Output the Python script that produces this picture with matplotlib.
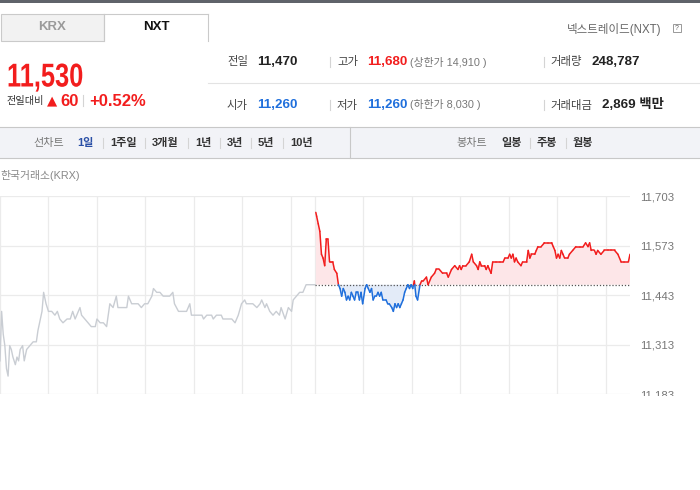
import numpy as np
import matplotlib
matplotlib.use('Agg')
import matplotlib.pyplot as plt
from matplotlib.collections import LineCollection
from matplotlib.patches import Rectangle, PathPatch
from matplotlib.lines import Line2D
from matplotlib.textpath import TextPath
from matplotlib.font_manager import FontProperties
from matplotlib.transforms import Affine2D

W, H = 700, 490
SANS = ['Liberation Sans', 'Noto Sans CJK KR', 'DejaVu Sans']
plt.rcParams['font.family'] = SANS

RED = '#f21d1d'
BLUE = '#1f6fdc'
GRAY_LINE = '#c9cdd3'

# ---- data ----
price = '11,530'
prev_close = 11470
y_ticks = [11183, 11313, 11443, 11573, 11703]
x_grid = [0, 60, 120, 180, 240, 300, 360, 390, 450, 510, 570, 630, 690, 750]

# KRX session, minutes from the open
krx_t = [0, 2, 4, 6, 8, 10, 12, 14, 16, 19, 21, 23, 25, 28, 30, 33, 37, 41, 45, 47,
         49, 52, 54, 57, 60, 64, 68, 71, 74, 78, 83, 87, 90, 93, 97, 99, 101, 105, 109, 113,
         118, 120, 124, 128, 132, 134, 136, 140, 144, 146, 153, 157, 159, 163, 171, 175, 179, 183, 188, 190,
         194, 198, 202, 206, 210, 214, 216, 221, 227, 231, 235, 237, 243, 250, 252, 256, 262, 264, 268, 274,
         276, 287, 291, 295, 299, 303, 305, 309, 313, 318, 322, 324, 328, 330, 334, 338, 342, 346, 348, 353,
         357, 361, 363, 367, 371, 375, 379, 383, 390]
krx_v = [11270, 11400, 11340, 11310, 11250, 11230, 11310, 11300, 11280, 11260,
         11280, 11270, 11300, 11310, 11270, 11300, 11310, 11320, 11320, 11350,
         11370, 11400, 11450, 11420, 11400, 11400, 11390, 11400, 11380, 11370,
         11380, 11380, 11400, 11380, 11400, 11410, 11390, 11380, 11370, 11360,
         11360, 11380, 11370, 11370, 11360, 11390, 11420, 11410, 11440, 11410,
         11410, 11410, 11440, 11420, 11420, 11410, 11420, 11420, 11440, 11460,
         11450, 11450, 11440, 11440, 11440, 11450, 11420, 11400, 11400, 11400,
         11420, 11390, 11390, 11390, 11380, 11390, 11390, 11380, 11390, 11390,
         11380, 11380, 11370, 11390, 11420, 11430, 11420, 11420, 11420, 11410,
         11420, 11430, 11410, 11420, 11400, 11390, 11400, 11390, 11410, 11380,
         11410, 11400, 11430, 11440, 11450, 11450, 11470, 11470, 11470]

# NXT session, same time axis
nxt_t = [391, 392, 394, 396, 398, 400, 402, 404, 406, 408, 410, 412, 414, 417, 419, 421, 423, 425, 427, 429,
         431, 433, 435, 437, 439, 441, 443, 445, 447, 449, 452, 454, 456, 458, 460, 462, 464, 466, 468, 470,
         472, 474, 478, 480, 482, 485, 487, 489, 491, 493, 495, 497, 499, 501, 503, 505, 507, 509, 511, 513,
         515, 517, 520, 522, 524, 528, 530, 534, 538, 540, 544, 548, 553, 555, 559, 563, 567, 569, 571, 573,
         577, 581, 584, 586, 590, 592, 594, 596, 600, 602, 604, 606, 608, 610, 614, 619, 623, 625, 629, 631,
         633, 635, 637, 639, 641, 645, 647, 652, 654, 656, 658, 662, 664, 666, 670, 674, 678, 683, 685, 687,
         689, 691, 693, 695, 697, 699, 703, 705, 709, 713, 718, 722, 725, 728, 730, 732, 736, 738, 740, 744,
         748, 753, 757, 761, 765, 769, 773, 778, 780]
nxt_v = [11660, 11650, 11630, 11610, 11550, 11540, 11520, 11590, 11590, 11530,
         11530, 11530, 11510, 11500, 11470, 11460, 11440, 11460, 11450, 11430,
         11440, 11430, 11450, 11440, 11430, 11450, 11450, 11430, 11450, 11420,
         11460, 11470, 11460, 11450, 11460, 11430, 11440, 11440, 11450, 11440,
         11450, 11430, 11430, 11420, 11420, 11410, 11400, 11420, 11410, 11420,
         11410, 11420, 11430, 11450, 11460, 11470, 11460, 11470, 11460, 11480,
         11440, 11430, 11470, 11480, 11480, 11490, 11470, 11490, 11500, 11510,
         11510, 11500, 11500, 11490, 11510, 11520, 11510, 11520, 11510, 11520,
         11520, 11530, 11550, 11530, 11520, 11510, 11530, 11520, 11520, 11510,
         11520, 11510, 11500, 11530, 11530, 11530, 11530, 11540, 11540, 11550,
         11540, 11550, 11530, 11540, 11530, 11520, 11530, 11530, 11560, 11540,
         11550, 11550, 11560, 11570, 11570, 11580, 11580, 11580, 11570, 11560,
         11540, 11550, 11540, 11560, 11550, 11540, 11540, 11550, 11560, 11570,
         11570, 11570, 11580, 11570, 11580, 11560, 11560, 11550, 11560, 11550,
         11560, 11560, 11560, 11560, 11550, 11530, 11530, 11530, 11550]


def fx(x):
    return x / W


def fy(y):
    return 1 - y / H


def txt(x, y, s, size=8, color='#333', weight='normal', ha='left', **kw):
    fig.text(fx(x), fy(y), s, fontsize=size, color=color, fontweight=weight,
             ha=ha, va='center', **kw)


def vline(x, y0, y1, color='#d4d4d4', lw=0.8):
    fig.add_artist(Line2D([fx(x), fx(x)], [fy(y0), fy(y1)], color=color, lw=lw,
                          transform=fig.transFigure))


def hline(x0, x1, y, color='#e3e3e3', lw=0.8):
    fig.add_artist(Line2D([fx(x0), fx(x1)], [fy(y), fy(y)], color=color, lw=lw,
                          transform=fig.transFigure))


def rect(x0, y0, x1, y1, fc, ec='none', lw=0.8, z=1):
    fig.add_artist(Rectangle((fx(x0), fy(y1)), fx(x1) - fx(x0), fy(y0) - fy(y1),
                             transform=fig.transFigure, fc=fc, ec=ec, lw=lw, zorder=z))


def narrow_text(x, y_base, s, size_px, sx, color):
    # condensed bold digits: draw the glyph outlines squeezed horizontally
    tp = TextPath((0, 0), s, size=size_px,
                  prop=FontProperties(family='Liberation Sans', weight='bold'))
    tr = Affine2D().scale(sx, 1).translate(x, H - y_base)
    fig.add_artist(PathPatch(tp, transform=tr, fc=color, ec='none'))


def split_segments(t, v, base):
    segs, cols = [], []
    for i in range(len(t) - 1):
        t0, v0, t1, v1 = t[i], v[i], t[i + 1], v[i + 1]
        if (v0 - base) * (v1 - base) < 0:
            tc = t0 + (base - v0) * (t1 - t0) / (v1 - v0)
            parts = [((t0, v0), (tc, base)), ((tc, base), (t1, v1))]
        else:
            parts = [((t0, v0), (t1, v1))]
        for p in parts:
            segs.append(p)
            cols.append(RED if (p[0][1] + p[1][1]) / 2 >= base else BLUE)
    return segs, cols


fig = plt.figure(figsize=(W / 100, H / 100), dpi=100)

# ---- header ----
rect(0, 0, 700, 3, '#5f636a')
rect(0.5, 14, 104, 41, '#f2f2f2', ec='#cacaca')
vline(104, 14, 41, '#cacaca')
hline(104, 208, 14, '#cacaca')
vline(208, 14, 41, '#cacaca')
txt(52, 27.5, 'KRX', 9.5, '#9a9a9a', 'bold', ha='center')
txt(156, 27.5, 'NXT', 9.5, '#111', 'bold', ha='center')
txt(567, 29, '넥스트레이드(NXT)', 8.3, '#666')
rect(673, 24, 681, 32, 'white', ec='#999', lw=0.7)
txt(677, 28, '?', 5, '#666', ha='center')

narrow_text(7, 86.5, price, 33, 0.77, RED)
txt(7, 101, '전일대비', 7.3, '#333')
txt(46.5, 101, '▲', 9.5, RED, family=['DejaVu Sans'])
txt(60, 101, '60', 12, RED, 'bold')
vline(83, 95, 106)
txt(89, 101, '+0.52%', 12, RED, 'bold')

# stats rows
hline(208, 700, 83)
for y, lab1, val1, c1, lab2, val2, c2, lim, lab3, val3 in [
        (62, '전일', '11,470', '#222', '고가', '11,680', RED, '(상한가 14,910 )', '거래량', '248,787'),
        (105, '시가', '11,260', BLUE, '저가', '11,260', BLUE, '(하한가 8,030 )', '거래대금', '2,869 백만')]:
    txt(227, y, lab1, 8.2, '#444')
    txt(257, y, val1, 9.6, c1, 'bold')
    vline(330, y - 5, y + 5)
    txt(337, y, lab2, 8.2, '#444')
    txt(367, y, val2, 9.6, c2, 'bold')
    txt(410, y, lim, 7.8, '#777')
    vline(544, y - 5, y + 5)
    txt(550, y, lab3, 8.2, '#444')
    txt(591 if lab3 == '거래량' else 602, y, val3, 9.6, '#222', 'bold')

# tool bar
rect(0, 127, 700, 158, '#f2f3f7')
hline(0, 700, 127, '#c8c8c8')
hline(0, 700, 158, '#c8c8c8')
vline(350, 127, 158, '#c8c8c8')
txt(33, 143, '선차트', 8, '#777')
txt(77, 143, '1일', 8, '#2a4fa6', 'bold')
for x, s in [(110, '1주일'), (152, '3개월'), (195, '1년'), (227, '3년'), (258, '5년'), (290, '10년')]:
    vline(x - 7.5, 138, 148)
    txt(x, 143, s, 8, '#333', 'bold')
txt(456, 143, '봉차트', 8, '#777')
txt(501, 143, '일봉', 8, '#333', 'bold')
for x, s in [(537, '주봉'), (573, '월봉')]:
    vline(x - 7.5, 138, 148)
    txt(x, 143, s, 8, '#333', 'bold')

txt(0, 175, '한국거래소(KRX)', 7.8, '#888')

# ---- chart ----
ax = fig.add_axes([0, fy(394), fx(630), (394 - 196) / H])
ax.set_xlim(0, 780)
ax.set_ylim(y_ticks[0], y_ticks[-1])
ax.set_xticks(x_grid)
ax.set_yticks(y_ticks)
ax.set_yticklabels([f'{v:,}' for v in y_ticks])
ax.yaxis.tick_right()
ax.tick_params(axis='y', length=0, pad=7, labelsize=8.2, labelcolor='#777')
ax.tick_params(axis='x', length=0, labelbottom=False)
ax.grid(True, color='#ebebeb', lw=0.9)
ax.set_axisbelow(True)
for s in ax.spines.values():
    s.set_visible(False)

ax.plot(krx_t, krx_v, color=GRAY_LINE, lw=1.0)

t = np.array(nxt_t, dtype=float)
v = np.array(nxt_v, dtype=float)
ax.fill_between(t, v, prev_close, where=v >= prev_close, interpolate=True,
                color='#fde6e8', lw=0)
ax.fill_between(t, v, prev_close, where=v <= prev_close, interpolate=True,
                color='#e3ebf8', lw=0)
ax.plot([krx_t[-1], nxt_t[-1]], [prev_close, prev_close], color='#555',
        lw=0.9, ls=(0, (1, 1.5)))
segs, cols = split_segments(nxt_t, nxt_v, prev_close)
ax.add_collection(LineCollection(segs, colors=cols, lw=1.1, capstyle='round',
                                 joinstyle='round'))

# page is cut just below the chart
rect(0, 396, 700, 490, 'white', z=10)

fig.savefig('out.png', dpi=100)
